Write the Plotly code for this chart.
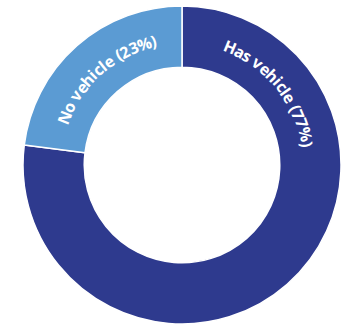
import math
import plotly.graph_objects as go

# Household vehicle access
labels = ["Has vehicle", "No vehicle"]
values = [77, 23]
colors = ["#2E3A8E", "#5B9BD3"]

# Angle (degrees clockwise from 12 o'clock) where each label's arc is centred
label_centres = {"Has vehicle": 50.5, "No vehicle": None}  # None -> slice middle

FONT = "Open Sans"
FONT_SIZE = 16
TEXT_RADIUS = 127.0  # px, ring mid-line
R_OUT = 159.0

# approximate advance widths (em) of the bold face, for arc layout
ADV = {"H": 0.79, "a": 0.58, "s": 0.50, " ": 0.27, "v": 0.56, "e": 0.58,
       "h": 0.66, "i": 0.31, "c": 0.50, "l": 0.31, "(": 0.35, ")": 0.35,
       "7": 0.58, "2": 0.58, "3": 0.58, "%": 0.87, "N": 0.82, "o": 0.63}

fig = go.Figure()
fig.add_trace(go.Pie(
    labels=labels, values=values, sort=False, direction="clockwise",
    rotation=0, hole=0.615, textinfo="none", hoverinfo="label+percent",
    marker=dict(colors=colors, line=dict(color="white", width=1.5)),
    showlegend=False,
))

# hidden axes in pixel units centred on the pie, for arc-placed text
fig.add_trace(go.Scatter(x=[0], y=[0], mode="markers",
                         marker=dict(opacity=0), hoverinfo="skip",
                         showlegend=False))

total = sum(values)
start = 0.0
annotations = []
for lab, val in zip(labels, values):
    span = 360.0 * val / total
    centre = label_centres[lab]
    if centre is None:
        centre = start + span / 2
        # slice runs clockwise from start; for the last slice, map to negative side
        if centre > 180:
            centre -= 360
    start += span
    text = f"{lab} ({round(100 * val / total)}%)"
    widths = [ADV.get(ch, 0.58) * FONT_SIZE for ch in text]
    total_w = sum(widths)
    arc = math.degrees(total_w / TEXT_RADIUS)
    a0 = centre - arc / 2
    cum = 0.0
    for ch, w in zip(text, widths):
        ang = a0 + math.degrees((cum + w / 2) / TEXT_RADIUS)
        cum += w
        if ch == " ":
            continue
        th = math.radians(ang)
        annotations.append(dict(
            x=TEXT_RADIUS * math.sin(th), y=TEXT_RADIUS * math.cos(th),
            xref="x", yref="y", text=ch, showarrow=False, textangle=ang,
            xanchor="center", yanchor="middle",
            font=dict(family=FONT, size=FONT_SIZE, color="white", weight="bold"),
        ))

fig.update_layout(
    width=346, height=324,
    margin=dict(l=23, r=5, t=6, b=0),
    paper_bgcolor="white", plot_bgcolor="rgba(0,0,0,0)",
    xaxis=dict(range=[-R_OUT, R_OUT], visible=False, fixedrange=True),
    yaxis=dict(range=[-R_OUT, R_OUT], visible=False, fixedrange=True),
    annotations=annotations,
)

fig.write_html("out.html")
